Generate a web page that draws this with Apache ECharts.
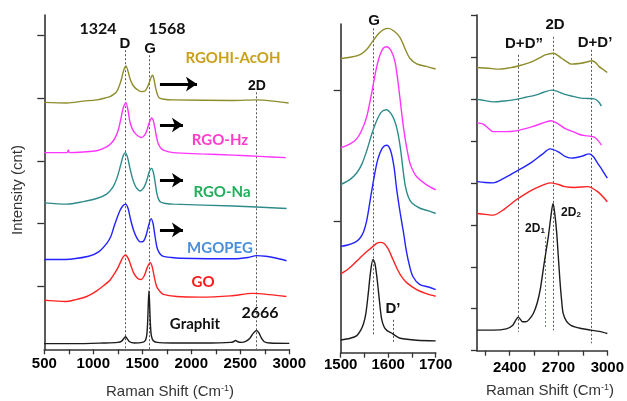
<!DOCTYPE html>
<html>
<head>
<meta charset="utf-8">
<script src="https://cdn.jsdelivr.net/npm/echarts@6/dist/echarts.min.js"></script>
<style>
  html, body { margin: 0; padding: 0; background: #fff; }
  #chart { width: 627px; height: 401px; }
</style>
</head>
<body>
<div id="chart"></div>
<script>
// Raman spectra, full range 500-3000 cm-1 (stacked, arbitrary offsets)
const fullGraphit = [[500,0.09],[800,0.09],[1100,0.1],[1250,0.11],[1290,0.13],[1315,0.18],[1330,0.2],[1345,0.17],[1370,0.12],[1420,0.1],[1500,0.11],[1530,0.14],[1545,0.22],[1555,0.45],[1562,0.75],[1568,0.93],[1574,0.75],[1582,0.42],[1592,0.22],[1610,0.14],[1650,0.11],[1800,0.1],[2200,0.1],[2400,0.11],[2430,0.12],[2450,0.14],[2475,0.12],[2510,0.11],[2560,0.13],[2600,0.18],[2630,0.25],[2666,0.3],[2690,0.26],[2715,0.18],[2745,0.12],[2800,0.1],[3000,0.095]];
const fullGO = [[500,0.78],[600,0.77],[712,0.76],[820,0.79],[932,0.84],[1034,0.93],[1110,1.02],[1170,1.1],[1238,1.26],[1270,1.36],[1300,1.46],[1330,1.5],[1355,1.45],[1380,1.35],[1410,1.22],[1450,1.13],[1485,1.11],[1520,1.17],[1550,1.3],[1580,1.38],[1600,1.32],[1620,1.17],[1646,1.0],[1680,0.92],[1714,0.875],[1850,0.84],[2088,0.83],[2400,0.85],[2630,0.89],[2800,0.87],[2970,0.84]];
const fullMGOPEG = [[500,1.43],[712,1.43],[952,1.48],[1054,1.55],[1139,1.69],[1180,1.8],[1207,1.93],[1240,2.08],[1270,2.2],[1300,2.28],[1330,2.31],[1355,2.24],[1380,2.07],[1410,1.9],[1445,1.77],[1478,1.71],[1512,1.72],[1540,1.82],[1563,1.96],[1590,2.08],[1610,2.0],[1625,1.85],[1640,1.7],[1654,1.6],[1680,1.52],[1714,1.48],[1800,1.46],[1884,1.45],[2428,1.44],[2580,1.46],[2666,1.49],[2760,1.48],[2836,1.46],[2972,1.41]];
const fullRGONa = [[500,2.33],[728,2.31],[898,2.35],[1034,2.4],[1136,2.47],[1200,2.58],[1240,2.72],[1279,2.93],[1305,3.08],[1327,3.13],[1350,3.05],[1374,2.88],[1400,2.72],[1425,2.61],[1450,2.55],[1476,2.52],[1510,2.56],[1544,2.68],[1570,2.82],[1595,2.88],[1612,2.82],[1629,2.68],[1646,2.5],[1665,2.39],[1690,2.34],[1740,2.32],[1816,2.31],[2428,2.28],[2972,2.24]];
const fullRGOHz = [[500,3.13],[650,3.13],[733,3.13],[745,3.17],[757,3.13],[900,3.14],[1034,3.16],[1136,3.22],[1190,3.29],[1221,3.36],[1255,3.49],[1279,3.65],[1305,3.84],[1333,3.92],[1352,3.82],[1374,3.62],[1400,3.5],[1425,3.44],[1460,3.39],[1493,3.37],[1520,3.4],[1544,3.47],[1570,3.6],[1595,3.68],[1612,3.64],[1629,3.52],[1645,3.38],[1663,3.27],[1690,3.2],[1714,3.17],[1816,3.13],[2100,3.11],[2428,3.09],[2700,3.07],[2965,3.05]];
const fullRGOHIAcOH = [[500,3.93],[728,3.92],[900,3.95],[1034,3.97],[1120,4.0],[1170,4.02],[1210,4.06],[1238,4.1],[1265,4.19],[1289,4.31],[1310,4.44],[1333,4.51],[1355,4.42],[1380,4.28],[1410,4.19],[1442,4.14],[1490,4.1],[1527,4.11],[1555,4.18],[1575,4.26],[1590,4.33],[1605,4.36],[1620,4.29],[1636,4.16],[1655,4.05],[1673,4.0],[1720,3.98],[1816,3.97],[2428,3.96],[2666,3.97],[2836,3.95],[2993,3.92]];

// G band detail, 1500-1700 cm-1
const gGraphit = [[1500,0.097],[1520,0.11],[1534,0.13],[1542,0.17],[1548,0.22],[1553,0.3],[1558,0.45],[1563,0.62],[1568,0.71],[1572,0.68],[1577,0.55],[1582,0.38],[1586,0.26],[1591,0.2],[1597,0.17],[1607,0.15],[1615,0.13],[1625,0.11],[1660,0.095],[1700,0.09]];
const gGO = [[1500,0.6],[1513,0.63],[1526,0.67],[1540,0.72],[1555,0.77],[1565,0.8],[1575,0.83],[1583,0.84],[1592,0.83],[1600,0.79],[1610,0.71],[1620,0.63],[1630,0.57],[1640,0.53],[1660,0.48],[1680,0.45],[1700,0.43]];
const gMGOPEG = [[1500,0.81],[1515,0.82],[1530,0.84],[1540,0.87],[1548,0.92],[1555,1.01],[1562,1.16],[1570,1.33],[1578,1.47],[1588,1.56],[1597,1.58],[1605,1.54],[1612,1.42],[1618,1.24],[1625,1.07],[1632,0.92],[1638,0.78],[1645,0.66],[1652,0.58],[1666,0.52],[1685,0.5],[1700,0.48]];
const gRGONa = [[1500,1.28],[1520,1.32],[1534,1.37],[1545,1.44],[1555,1.54],[1565,1.66],[1575,1.76],[1585,1.83],[1596,1.85],[1606,1.82],[1614,1.76],[1620,1.68],[1626,1.55],[1631,1.4],[1636,1.27],[1642,1.19],[1650,1.14],[1667,1.1],[1685,1.08],[1700,1.06]];
const gRGOHz = [[1500,1.56],[1520,1.59],[1534,1.63],[1545,1.7],[1555,1.8],[1562,1.92],[1569,2.05],[1576,2.18],[1583,2.27],[1590,2.32],[1597,2.33],[1606,2.3],[1614,2.22],[1620,2.08],[1626,1.9],[1632,1.72],[1639,1.56],[1646,1.44],[1653,1.38],[1660,1.34],[1680,1.28],[1700,1.24]];
const gRGOHIAcOH = [[1500,2.24],[1520,2.25],[1541,2.27],[1555,2.31],[1569,2.38],[1580,2.43],[1590,2.46],[1600,2.47],[1612,2.45],[1625,2.4],[1636,2.31],[1646,2.24],[1660,2.2],[1680,2.18],[1700,2.16]];

// 2D region, 2200-3000 cm-1
const dGraphit = [[2200,0.49],[2300,0.49],[2380,0.52],[2418,0.6],[2440,0.74],[2453,0.8],[2466,0.75],[2479,0.69],[2500,0.69],[2519,0.74],[2545,0.88],[2569,1.13],[2590,1.5],[2609,2.0],[2625,2.4],[2639,2.75],[2652,3.15],[2667,3.51],[2678,3.25],[2689,2.82],[2699,2.25],[2709,1.68],[2719,1.22],[2729,0.89],[2750,0.7],[2779,0.6],[2840,0.53],[2899,0.49],[2950,0.46],[3000,0.41]];
const dGO = [[2200,3.27],[2250,3.25],[2298,3.23],[2370,3.38],[2439,3.59],[2490,3.72],[2539,3.83],[2600,3.94],[2649,4.0],[2700,3.96],[2739,3.91],[2800,3.89],[2879,3.91],[2940,3.79],[3000,3.55]];
const dMGOPEG = [[2200,4.03],[2250,4.01],[2298,4.0],[2370,4.12],[2439,4.27],[2490,4.38],[2539,4.5],[2600,4.68],[2649,4.81],[2699,4.74],[2740,4.63],[2779,4.59],[2840,4.63],[2889,4.69],[2915,4.62],[2940,4.47],[2970,4.3],[3000,4.11]];
const dRGOHz = [[2200,5.43],[2238,5.4],[2270,5.3],[2298,5.22],[2370,5.22],[2439,5.24],[2539,5.34],[2600,5.42],[2654,5.48],[2700,5.4],[2739,5.3],[2790,5.22],[2839,5.14],[2880,5.12],[2920,5.09],[2945,5.0],[2964,4.9]];
const dRGONa = [[2200,5.99],[2250,5.96],[2298,5.93],[2370,5.95],[2439,5.99],[2500,6.04],[2559,6.09],[2610,6.16],[2659,6.21],[2700,6.17],[2739,6.11],[2790,6.06],[2839,6.02],[2880,6.01],[2920,6.0],[2945,5.94],[2964,5.83]];
const dRGOHIAcOH = [[2200,6.75],[2270,6.73],[2338,6.71],[2400,6.74],[2459,6.79],[2539,6.89],[2580,6.97],[2619,7.05],[2669,7.09],[2719,6.97],[2750,6.89],[2779,6.83],[2839,6.85],[2875,6.88],[2906,6.91],[2930,6.86],[2950,6.77],[2975,6.7],[3000,6.63]];

// Band positions (cm-1)
const bandD = 1324, bandG = 1568, band2D = 2666, bandDprime = 1610;
const bandDDpp = 2453, bandDDp = 2904, band2D1 = 2622;

const colors = {
  graphit: '#1c1c1c', go: '#ff2222', mgopeg: '#2323ff',
  rgona: '#2f8b8b', rgohz: '#ff35ff', rgohi: '#8d8d2c'
};

function spec(data, color, idx) {
  return {
    type: 'line', xAxisIndex: idx, yAxisIndex: idx, data: data,
    showSymbol: false, smooth: 0.3, silent: true,
    lineStyle: { color: color, width: 1.4 }
  };
}

function guides(idx, segs, color, type, width) {
  return {
    type: 'lines', coordinateSystem: 'cartesian2d', xAxisIndex: idx, yAxisIndex: idx,
    silent: true, z: 1,
    lineStyle: { color: color || '#555', type: type || [2, 2], width: width || 1, opacity: 1 },
    data: segs.map(s => ({ coords: s }))
  };
}

const axisLine = { show: true, lineStyle: { color: '#333', width: 1.6 } };
const tickStyle = { color: '#333', width: 1.3 };
const tickFont = { fontFamily: 'Arial, Liberation Sans', fontWeight: 'bold', fontSize: 15, color: '#000' };

function txt(x, y, text, opts) {
  return {
    type: 'text', x: x, y: y, silent: true,
    style: Object.assign({
      text: text, align: 'center', verticalAlign: 'middle',
      fontFamily: 'Liberation Sans', fontWeight: 700, fontSize: 15, fill: '#111'
    }, opts || {})
  };
}

const shiftTitle = {
  text: '{a|Raman Shift (Cm}{s|-1}{a|)}',
  rich: {
    a: { fontFamily: 'Liberation Sans', fontSize: 15, fill: '#333', color: '#333' },
    s: { fontFamily: 'Liberation Sans', fontSize: 9, fill: '#333', color: '#333', verticalAlign: 'top' }
  }
};

const option = {
  animation: false,
  backgroundColor: '#fff',
  grid: [
    { left: 44.3, top: 15, width: 245, height: 334.3 },
    { left: 340.7, top: 24, width: 95, height: 328.7 },
    { left: 477, top: 15, width: 133, height: 335.7 }
  ],
  xAxis: [
    { type: 'value', gridIndex: 0, min: 500, max: 3000, interval: 250,
      axisLine: axisLine, splitLine: { show: false },
      axisTick: { show: true, length: 5, lineStyle: tickStyle },
      axisLabel: Object.assign({ margin: 7, formatter: v => (v % 500 === 0 ? String(v) : '') }, tickFont) },
    { type: 'value', gridIndex: 1, min: 1500, max: 1700, interval: 50,
      axisLine: axisLine, splitLine: { show: false },
      axisTick: { show: true, length: 5, lineStyle: tickStyle },
      axisLabel: Object.assign({ margin: 5, formatter: v => (v % 100 === 0 ? String(v) : '') }, tickFont) },
    { type: 'value', gridIndex: 2, min: 2200, max: 3000,
      axisLine: axisLine, splitLine: { show: false },
      axisTick: { show: true, length: 5, lineStyle: tickStyle, customValues: [2250, 2400, 2550, 2700, 2850, 3000] },
      axisLabel: Object.assign({ margin: 10, customValues: [2400, 2700, 3000], formatter: v => String(v) }, tickFont) }
  ],
  yAxis: [
    { type: 'value', gridIndex: 0, min: 0, max: 5.32,
      axisLine: axisLine, splitLine: { show: false }, axisLabel: { show: false },
      axisTick: { show: true, length: 7, lineStyle: tickStyle, customValues: [1, 2, 3, 4, 5] } },
    { type: 'value', gridIndex: 1, min: 0, max: 2.503,
      axisLine: axisLine, splitLine: { show: false }, axisLabel: { show: false },
      axisTick: { show: true, length: 7, lineStyle: tickStyle, customValues: [1, 2] } },
    { type: 'value', gridIndex: 2, min: 0, max: 8, interval: 1,
      axisLine: axisLine, splitLine: { show: false }, axisLabel: { show: false },
      axisTick: { show: true, length: 6, lineStyle: tickStyle } }
  ],
  series: [
    guides(0, [[[bandD, 4.76], [bandD, 0]], [[bandG, 4.68], [bandG, 0]], [[band2D, 4.09], [band2D, 0]]]),
    guides(1, [[[bandG, 2.47], [bandG, 0.135]], [[bandDprime, 0.25], [bandDprime, 0.074]]]),
    guides(2, [[[bandDDpp, 7.05], [bandDDpp, 0.45]], [[band2D, 7.48], [band2D, 0.49]], [[bandDDp, 7.17], [bandDDp, 0.18]]]),
    guides(2, [[[band2D1, 2.71], [band2D1, 0.56]]], '#6a6aff', [2, 2], 1),
    // shift arrows
    {
      type: 'lines', coordinateSystem: 'cartesian2d', xAxisIndex: 0, yAxisIndex: 0, silent: true, z: 5,
      symbol: ['none', 'arrow'], symbolSize: [11, 11],
      lineStyle: { color: '#000', width: 3, opacity: 1, type: 'solid' },
      data: [
        { coords: [[1680, 4.22], [2058, 4.22]] },
        { coords: [[1680, 3.57], [1915, 3.57]] },
        { coords: [[1680, 2.69], [1915, 2.69]] },
        { coords: [[1680, 1.9], [1915, 1.9]] }
      ]
    },
    spec(fullGraphit, colors.graphit, 0),
    spec(fullGO, colors.go, 0),
    spec(fullMGOPEG, colors.mgopeg, 0),
    spec(fullRGONa, colors.rgona, 0),
    spec(fullRGOHz, colors.rgohz, 0),
    spec(fullRGOHIAcOH, colors.rgohi, 0),
    spec(gGraphit, colors.graphit, 1),
    spec(gGO, colors.go, 1),
    spec(gMGOPEG, colors.mgopeg, 1),
    spec(gRGONa, colors.rgona, 1),
    spec(gRGOHz, colors.rgohz, 1),
    spec(gRGOHIAcOH, colors.rgohi, 1),
    spec(dGraphit, colors.graphit, 2),
    spec(dGO, colors.go, 2),
    spec(dMGOPEG, colors.mgopeg, 2),
    spec(dRGOHz, colors.rgohz, 2),
    spec(dRGONa, colors.rgona, 2),
    spec(dRGOHIAcOH, colors.rgohi, 2)
  ],
  graphic: [
    { type: 'text', x: 18, y: 190, rotation: Math.PI / 2, silent: true,
      style: { text: 'Intensity (cnt)', align: 'center', verticalAlign: 'middle',
               fontFamily: 'Liberation Sans', fontSize: 15, fill: '#333' } },
    { type: 'text', x: 170, y: 392, silent: true,
      style: Object.assign({ align: 'center', verticalAlign: 'middle' }, shiftTitle) },
    { type: 'text', x: 550, y: 391, silent: true,
      style: Object.assign({ align: 'center', verticalAlign: 'middle' }, shiftTitle) },
    txt(98, 29, String(bandD), { fontFamily: 'Lato', fontSize: 16 }),
    txt(167, 29, String(bandG), { fontFamily: 'Lato', fontSize: 16 }),
    txt(125, 44, 'D'),
    txt(150, 49, 'G'),
    txt(233, 58, 'RGOHI-AcOH', { fontFamily: 'Lato', fontSize: 15, fill: '#c9a018' }),
    txt(257, 86, '2D', { fontSize: 14 }),
    txt(220, 140, 'RGO-Hz', { fontFamily: 'Lato', fontSize: 15, fill: '#ff3ccc' }),
    txt(222, 192, 'RGO-Na', { fontFamily: 'Lato', fontSize: 15, fill: '#1fae5a' }),
    txt(220, 248, 'MGOPEG', { fontFamily: 'Lato', fontSize: 15, fill: '#4a8fdc' }),
    txt(203, 282, 'GO', { fontFamily: 'Lato', fontSize: 15, fill: '#ff1a1a' }),
    txt(195, 324, 'Graphit', { fontFamily: 'Lato', fontSize: 15 }),
    txt(260, 313, String(band2D), { fontFamily: 'Lato', fontSize: 16 }),
    txt(374, 21, 'G'),
    txt(393, 309, 'D\u2019'),
    txt(555, 25, '2D'),
    txt(524, 44, 'D+D\u201D'),
    txt(595, 43, 'D+D\u2019'),
    { type: 'text', x: 535, y: 229, silent: true,
      style: { text: '{a|2D}{b|1}', align: 'center', verticalAlign: 'middle',
        rich: { a: { fontFamily: 'Liberation Sans', fontWeight: 700, fontSize: 12, fill: '#111', color: '#111' },
                b: { fontFamily: 'Liberation Sans', fontWeight: 700, fontSize: 8, fill: '#111', color: '#111', verticalAlign: 'bottom' } } } },
    { type: 'text', x: 571, y: 213, silent: true,
      style: { text: '{a|2D}{b|2}', align: 'center', verticalAlign: 'middle',
        rich: { a: { fontFamily: 'Liberation Sans', fontWeight: 700, fontSize: 12, fill: '#111', color: '#111' },
                b: { fontFamily: 'Liberation Sans', fontWeight: 700, fontSize: 8, fill: '#111', color: '#111', verticalAlign: 'bottom' } } } }
  ]
};

const chart = echarts.init(document.getElementById('chart'), null, { renderer: 'canvas' });
chart.setOption(option);
</script>
</body>
</html>
